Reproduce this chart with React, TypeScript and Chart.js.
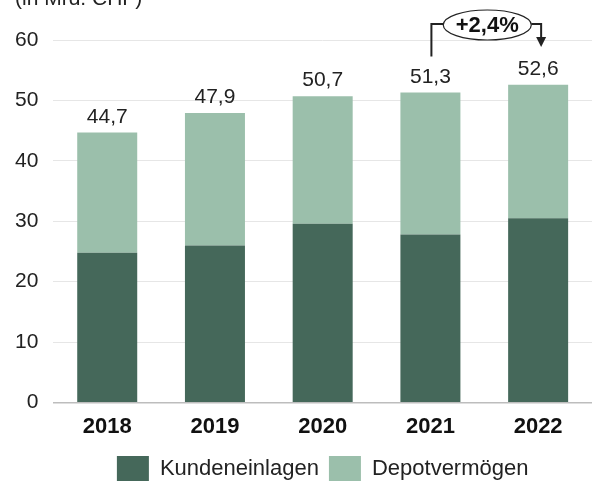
import React, { useEffect, useRef } from "react";
import { Chart, registerables } from "chart.js";

Chart.register(...registerables);

const categories = ["2018", "2019", "2020", "2021", "2022"];
const kundeneinlagen = [24.8, 26.0, 29.6, 27.8, 30.5];
const depotvermoegen = [19.9, 21.9, 21.1, 23.5, 22.1];
const totals = ["44,7", "47,9", "50,7", "51,3", "52,6"];
const changeLabel = "+2,4%";
const unitLabel = "(in Mrd. CHF)";
const yTicks = [0, 10, 20, 30, 40, 50, 60];

const DARK = "#45685a";
const LIGHT = "#9bbfab";
const FONT = "'Liberation Sans', Arial, sans-serif";

const overlayPlugin = {
  id: "overlay",
  afterDatasetsDraw(chart: any) {
    const ctx = chart.ctx;
    const x = chart.scales.x;
    const y = chart.scales.y;
    ctx.save();
    ctx.fillStyle = "#222";
    ctx.font = `21px ${FONT}`;
    ctx.textAlign = "center";
    ctx.textBaseline = "bottom";
    categories.forEach((_, i) => {
      const sum = kundeneinlagen[i] + depotvermoegen[i];
      ctx.fillText(totals[i], x.getPixelForValue(i), y.getPixelForValue(sum) - 5);
    });
    ctx.textAlign = "left";
    ctx.textBaseline = "alphabetic";
    ctx.fillText(unitLabel, 15, 5);
    const x1 = x.getPixelForValue(3) + 1;
    const x2 = x.getPixelForValue(4) + 3;
    const lineY = chart.chartArea.top - 16;
    const legBottom = y.getPixelForValue(kundeneinlagen[3] + depotvermoegen[3]) - 36;
    const cx = (x1 + x2) / 2 + 1;
    const rx = 44;
    const ry = 15;
    ctx.strokeStyle = "#222";
    ctx.lineWidth = 2;
    ctx.beginPath();
    ctx.moveTo(x1, legBottom);
    ctx.lineTo(x1, lineY);
    ctx.lineTo(cx - rx, lineY);
    ctx.moveTo(cx + rx, lineY);
    ctx.lineTo(x2, lineY);
    ctx.lineTo(x2, lineY + 14);
    ctx.stroke();
    ctx.fillStyle = "#222";
    ctx.beginPath();
    ctx.moveTo(x2 - 5, lineY + 13);
    ctx.lineTo(x2 + 5, lineY + 13);
    ctx.lineTo(x2, lineY + 23);
    ctx.closePath();
    ctx.fill();
    ctx.lineWidth = 1.2;
    ctx.beginPath();
    ctx.ellipse(cx, lineY + 1, rx, ry, 0, 0, Math.PI * 2);
    ctx.fillStyle = "#fff";
    ctx.fill();
    ctx.stroke();
    ctx.fillStyle = "#111";
    ctx.font = `bold 22px ${FONT}`;
    ctx.textAlign = "center";
    ctx.textBaseline = "middle";
    ctx.fillText(changeLabel, cx, lineY + 2);
    ctx.restore();
  },
};

export default function App() {
  const ref = useRef<HTMLCanvasElement>(null);
  useEffect(() => {
    document.body.style.margin = "0";
    const chart = new Chart(ref.current!, {
      type: "bar",
      data: {
        labels: categories,
        datasets: [
          {
            label: "Kundeneinlagen",
            data: kundeneinlagen,
            backgroundColor: DARK,
            barPercentage: 0.557,
            categoryPercentage: 1,
          },
          {
            label: "Depotvermögen",
            data: depotvermoegen,
            backgroundColor: LIGHT,
            barPercentage: 0.557,
            categoryPercentage: 1,
          },
        ],
      },
      options: {
        animation: false,
        responsive: false,
        layout: { padding: { top: 40, left: 0, right: 0, bottom: -8 } },
        plugins: {
          legend: {
            position: "bottom",
            fullSize: false,
            labels: {
              boxWidth: 32,
              boxHeight: 25,
              padding: 10,
              color: "#222",
              font: { family: FONT, size: 22 },
            },
          },
          tooltip: { enabled: false },
        },
        scales: {
          x: {
            stacked: true,
            grid: { display: false, drawTicks: false },
            border: { color: "#bdbdbd", width: 1.5 },
            afterFit: (scale: any) => {
              scale.height -= 4.5;
            },
            ticks: {
              color: "#111",
              padding: 13,
              font: { family: FONT, size: 22, weight: "bold", lineHeight: 1.0 },
            },
          },
          y: {
            stacked: true,
            min: 0,
            max: 60,
            afterBuildTicks: (axis: any) => {
              axis.ticks = yTicks.map((v) => ({ value: v }));
            },
            grid: { color: "#e6e6e6", drawTicks: false },
            border: { display: false },
            ticks: {
              color: "#222",
              padding: 15,
              font: { family: FONT, size: 21 },
            },
          },
        },
      },
      plugins: [overlayPlugin],
    });
    return () => chart.destroy();
  }, []);
  return <canvas ref={ref} width={592} height={483} style={{ display: "block" }} />;
}
